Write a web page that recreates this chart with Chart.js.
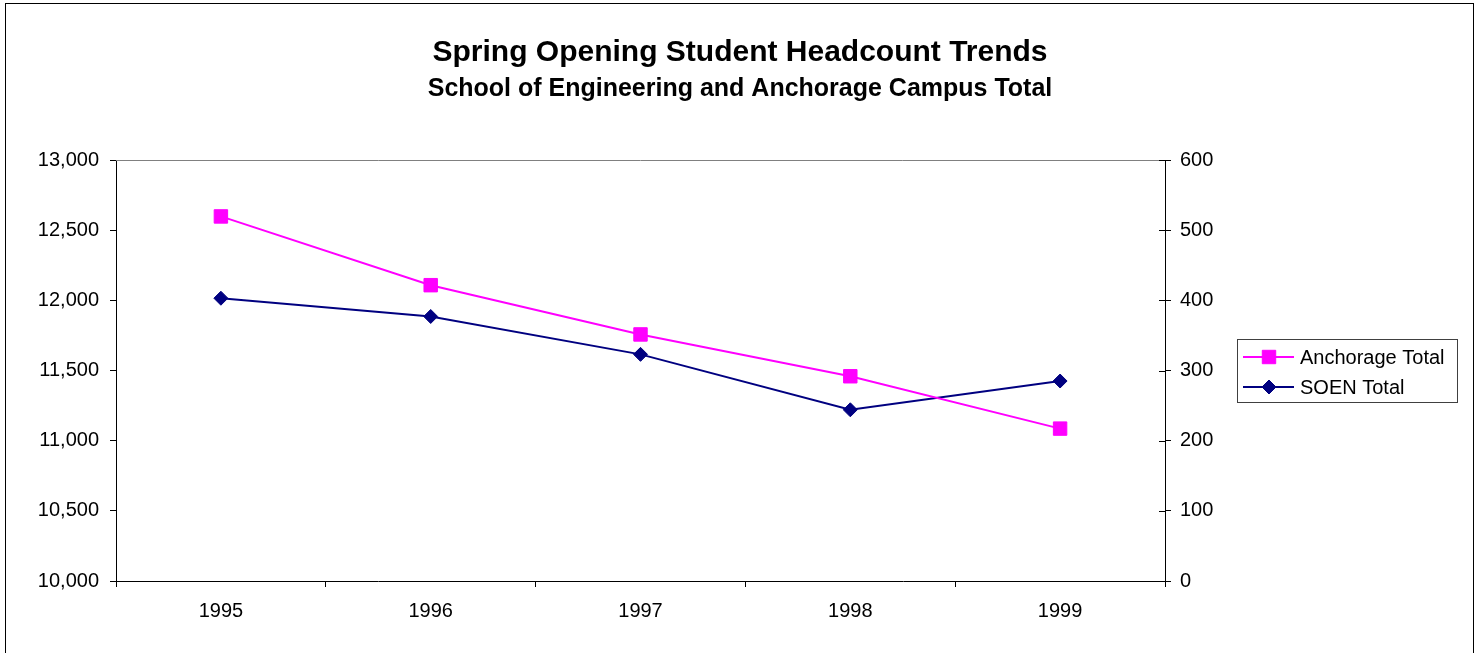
<!DOCTYPE html>
<html>
<head>
<meta charset="utf-8">
<title>Spring Opening Student Headcount Trends</title>
<script src="https://cdn.jsdelivr.net/npm/chart.js@4/dist/chart.umd.min.js"></script>
<style>
    html, body { margin: 0; padding: 0; background: #fff; }
    #wrap { position: relative; width: 1480px; height: 653px; }
</style>
</head>
<body>
<div id="wrap"><canvas id="chart" width="1480" height="653"></canvas></div>
<script>
const years = ['1995', '1996', '1997', '1998', '1999'];
const anchorageTotal = [12598, 12108, 11757, 11459, 11086];
const soenTotal = [403, 377, 323, 244, 285];
const leftTicks = [10000, 10500, 11000, 11500, 12000, 12500, 13000];
const rightTicks = [0, 100, 200, 300, 400, 500, 600];

const titleText = 'Spring Opening Student Headcount Trends';
const subtitleText = 'School of Engineering and Anchorage Campus Total';
const fontFamily = '"Liberation Sans", Arial, sans-serif';

// frame, titles, plot border, cross ticks and the boxed legend
const excelLook = {
    id: 'excelLook',
    beforeDraw(chart) {
        const ctx = chart.ctx;
        ctx.save();
        ctx.strokeStyle = '#000';
        ctx.lineWidth = 1;
        ctx.strokeRect(5.5, 3.5, 1468, 660);
        ctx.restore();
    },
    afterDraw(chart) {
        const ctx = chart.ctx;
        const area = chart.chartArea;
        ctx.save();

        ctx.fillStyle = '#000';
        ctx.textAlign = 'center';
        ctx.textBaseline = 'middle';
        ctx.font = 'bold 30px ' + fontFamily;
        ctx.fillText(titleText, 740, 53);
        ctx.font = 'bold 25px ' + fontFamily;
        ctx.fillText(subtitleText, 740, 89);

        // gray top border of the plot area
        ctx.strokeStyle = '#808080';
        ctx.lineWidth = 1;
        ctx.beginPath();
        ctx.moveTo(area.left, Math.round(area.top) + 0.5);
        ctx.lineTo(area.right, Math.round(area.top) + 0.5);
        ctx.stroke();

        // right axis ticks cross into the plot
        const y2 = chart.scales.y2;
        ctx.strokeStyle = '#000';
        ctx.beginPath();
        rightTicks.forEach(v => {
            const py = Math.round(y2.getPixelForValue(v)) + 0.5;
            ctx.moveTo(area.right - 6, py);
            ctx.lineTo(area.right, py);
        });
        ctx.stroke();

        // legend
        const lx = 1237, ly = 339, lw = 220, lh = 63;
        ctx.fillStyle = '#fff';
        ctx.fillRect(lx, ly, lw, lh);
        ctx.strokeStyle = '#404040';
        ctx.strokeRect(lx + 0.5, ly + 0.5, lw, lh);
        const rows = [357, 387];
        chart.data.datasets.forEach((ds, i) => {
            const ry = rows[i];
            ctx.strokeStyle = ds.borderColor;
            ctx.lineWidth = 2;
            ctx.beginPath();
            ctx.moveTo(1243, ry);
            ctx.lineTo(1294, ry);
            ctx.stroke();
            ctx.fillStyle = ds.pointBackgroundColor;
            ctx.strokeStyle = ds.pointBorderColor;
            ctx.lineWidth = 1;
            Chart.helpers.drawPoint(ctx, {
                pointStyle: ds.pointStyle,
                radius: ds.pointRadius,
                borderWidth: 1,
                rotation: 0
            }, 1269, ry);
            ctx.fillStyle = '#000';
            ctx.textAlign = 'left';
            ctx.textBaseline = 'middle';
            ctx.font = '20px ' + fontFamily;
            ctx.fillText(ds.label, 1300, ry + 1);
        });
        ctx.restore();
    }
};

const ctx = document.getElementById('chart').getContext('2d');
Chart.defaults.font.family = fontFamily;
Chart.defaults.color = '#000';

new Chart(ctx, {
    type: 'line',
    data: {
        labels: years,
        datasets: [{
            label: 'Anchorage Total',
            data: anchorageTotal,
            yAxisID: 'y',
            borderColor: '#FF00FF',
            backgroundColor: '#FF00FF',
            pointBackgroundColor: '#FF00FF',
            pointBorderColor: '#FF00FF',
            pointStyle: 'rect',
            pointRadius: 9.5,
            pointBorderWidth: 1,
            borderWidth: 2,
            tension: 0
        }, {
            label: 'SOEN Total',
            data: soenTotal,
            yAxisID: 'y2',
            borderColor: '#000080',
            backgroundColor: '#000080',
            pointBackgroundColor: '#000080',
            pointBorderColor: '#000080',
            pointStyle: 'rectRot',
            pointRadius: 7,
            pointBorderWidth: 1,
            borderWidth: 2,
            tension: 0
        }]
    },
    options: {
        responsive: false,
        animation: false,
        layout: { padding: { left: 0, top: 160, right: 255, bottom: 0 } },
        plugins: {
            legend: { display: false },
            title: { display: false },
            tooltip: { enabled: false }
        },
        scales: {
            x: {
                offset: true,
                grid: {
                    offset: true,
                    drawOnChartArea: false,
                    tickLength: 6,
                    color: '#000'
                },
                border: { color: '#000', width: 1 },
                ticks: { font: { size: 20 }, padding: 12, maxRotation: 0 },
                afterFit(scale) { scale.height = 72; }
            },
            y: {
                position: 'left',
                min: 10000,
                max: 13000,
                afterBuildTicks(scale) { scale.ticks = leftTicks.map(v => ({ value: v })); },
                grid: { drawOnChartArea: false, tickLength: 6, color: '#000' },
                border: { color: '#000', width: 1 },
                ticks: {
                    font: { size: 20 },
                    padding: 11,
                    callback: v => v.toLocaleString('en-US')
                },
                afterFit(scale) { scale.width = 116; }
            },
            y2: {
                position: 'right',
                min: 0,
                max: 600,
                afterBuildTicks(scale) { scale.ticks = rightTicks.map(v => ({ value: v })); },
                grid: { drawOnChartArea: false, tickLength: 6, color: '#000' },
                border: { color: '#000', width: 1 },
                ticks: { font: { size: 20 }, padding: 9 },
                afterFit(scale) { scale.width = 60; }
            }
        }
    },
    plugins: [excelLook]
});
</script>
</body>
</html>
